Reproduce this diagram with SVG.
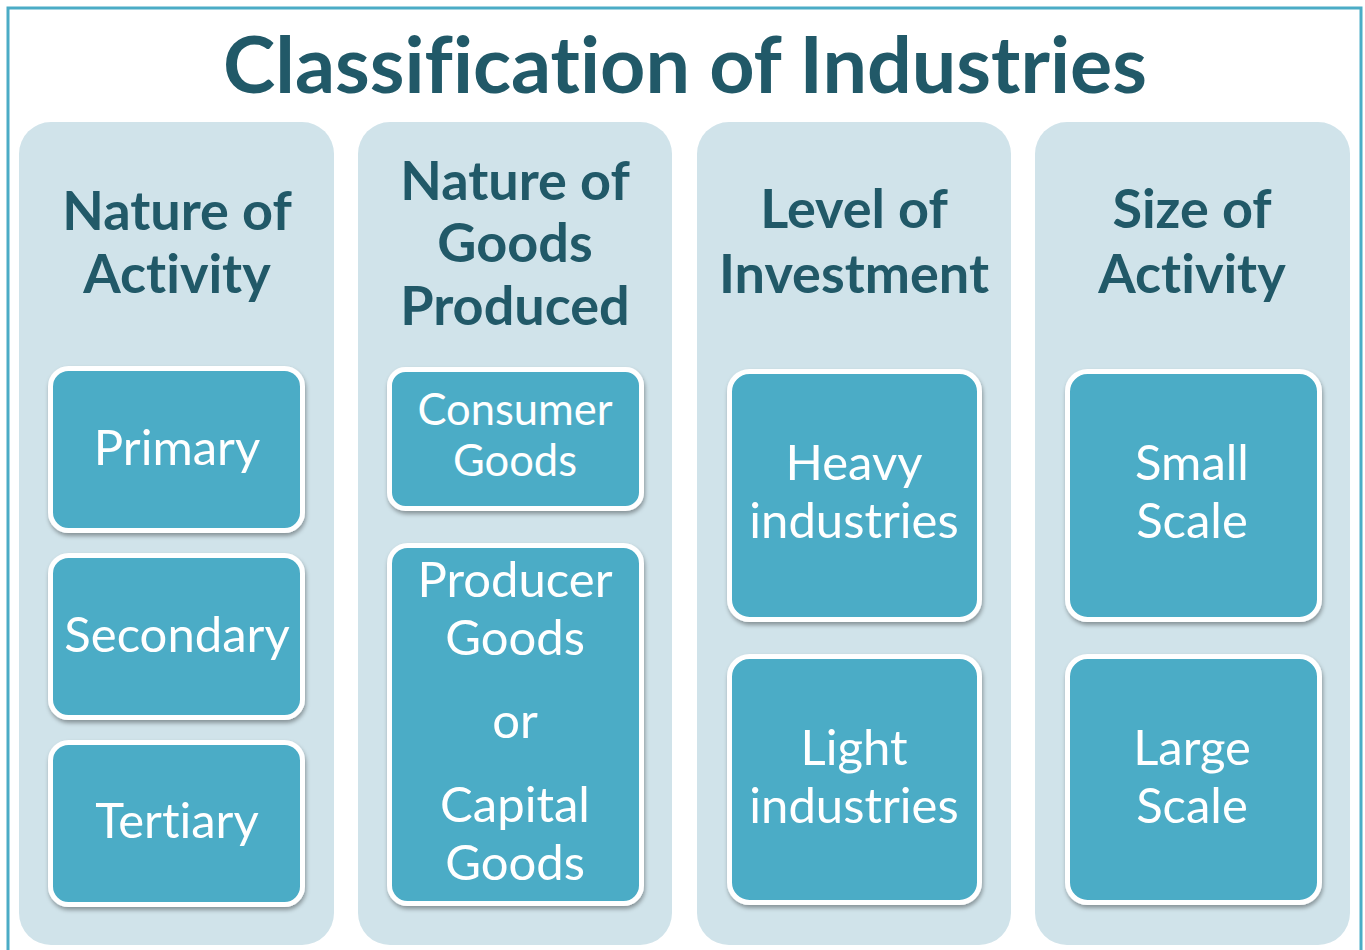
<svg xmlns="http://www.w3.org/2000/svg" width="1365" height="950" viewBox="0 0 1365 950">
<defs>
<style>
text{font-variant-ligatures:none;font-family:Lato,"Open Sans",sans-serif;text-anchor:middle}
.panel{fill:#D0E3EA}
.box{fill:#4BACC6;stroke:#FFFFFF;stroke-width:5}
.title{font-weight:bold;font-size:79px;fill:#215968}
.hdr{font-weight:bold;font-size:54px;fill:#215968}
.lbl{font-size:49px;fill:#FFFFFF}
.lbl2{font-size:43.5px;fill:#FFFFFF}
</style>
<filter id="sh" x="-10%" y="-10%" width="120%" height="125%">
<feDropShadow dx="1" dy="3" stdDeviation="2" flood-color="#000" flood-opacity="0.35"/>
</filter>
</defs>
<rect width="1365" height="950" fill="#FFFFFF"/>
<rect x="8" y="8" width="1353" height="960" fill="none" stroke="#4BACC6" stroke-width="3"/>
<text class="title" x="685" y="93">Classification of Industries</text>
<g id="col1">
<rect class="panel" x="19" y="122" width="315" height="823" rx="32"/>
<text class="hdr" x="177" y="230">Nature of</text>
<text class="hdr" x="177" y="293">Activity</text>
</g>
<g id="col2">
<rect class="panel" x="358" y="122" width="314" height="823" rx="32"/>
<text class="hdr" x="515" y="200">Nature of</text>
<text class="hdr" x="515" y="262">Goods</text>
<text class="hdr" x="515" y="325">Produced</text>
</g>
<g id="col3">
<rect class="panel" x="697" y="122" width="314" height="823" rx="32"/>
<text class="hdr" x="854" y="228">Level of</text>
<text class="hdr" x="854" y="293">Investment</text>
</g>
<g id="col4">
<rect class="panel" x="1035" y="122" width="315" height="823" rx="32"/>
<text class="hdr" x="1192" y="228">Size of</text>
<text class="hdr" x="1192" y="293">Activity</text>
</g>
<g id="primary">
<rect class="box" x="50.5" y="368.5" width="252" height="162" rx="18" filter="url(#sh)"/>
<text class="lbl" x="177" y="465">Primary</text>
</g>
<g id="secondary">
<rect class="box" x="50.5" y="555.5" width="252" height="162" rx="18" filter="url(#sh)"/>
<text class="lbl" x="177" y="652">Secondary</text>
</g>
<g id="tertiary">
<rect class="box" x="50.5" y="742.5" width="252" height="162" rx="18" filter="url(#sh)"/>
<text class="lbl" x="177" y="838">Tertiary</text>
</g>
<g id="consumer">
<rect class="box" x="389.5" y="369.5" width="252" height="139" rx="16" filter="url(#sh)"/>
<text class="lbl2" x="515" y="425">Consumer</text>
<text class="lbl2" x="515" y="476">Goods</text>
</g>
<g id="producer">
<rect class="box" x="389.5" y="545.5" width="252" height="358" rx="18" filter="url(#sh)"/>
<text class="lbl" x="515" y="597">Producer</text>
<text class="lbl" x="515" y="655">Goods</text>
<text class="lbl" x="515" y="738">or</text>
<text class="lbl" x="515" y="822">Capital</text>
<text class="lbl" x="515" y="880">Goods</text>
</g>
<g id="heavy">
<rect class="box" x="729.5" y="371.5" width="250" height="248" rx="20" filter="url(#sh)"/>
<text class="lbl" x="854" y="480">Heavy</text>
<text class="lbl" x="854" y="538">industries</text>
</g>
<g id="light">
<rect class="box" x="729.5" y="656.5" width="250" height="246" rx="20" filter="url(#sh)"/>
<text class="lbl" x="854" y="765">Light</text>
<text class="lbl" x="854" y="823">industries</text>
</g>
<g id="small">
<rect class="box" x="1067.5" y="371.5" width="252" height="248" rx="20" filter="url(#sh)"/>
<text class="lbl" x="1192" y="480">Small</text>
<text class="lbl" x="1192" y="538">Scale</text>
</g>
<g id="large">
<rect class="box" x="1067.5" y="656.5" width="252" height="246" rx="20" filter="url(#sh)"/>
<text class="lbl" x="1192" y="765">Large</text>
<text class="lbl" x="1192" y="823">Scale</text>
</g>
<g id="connectors"/>
</svg>
